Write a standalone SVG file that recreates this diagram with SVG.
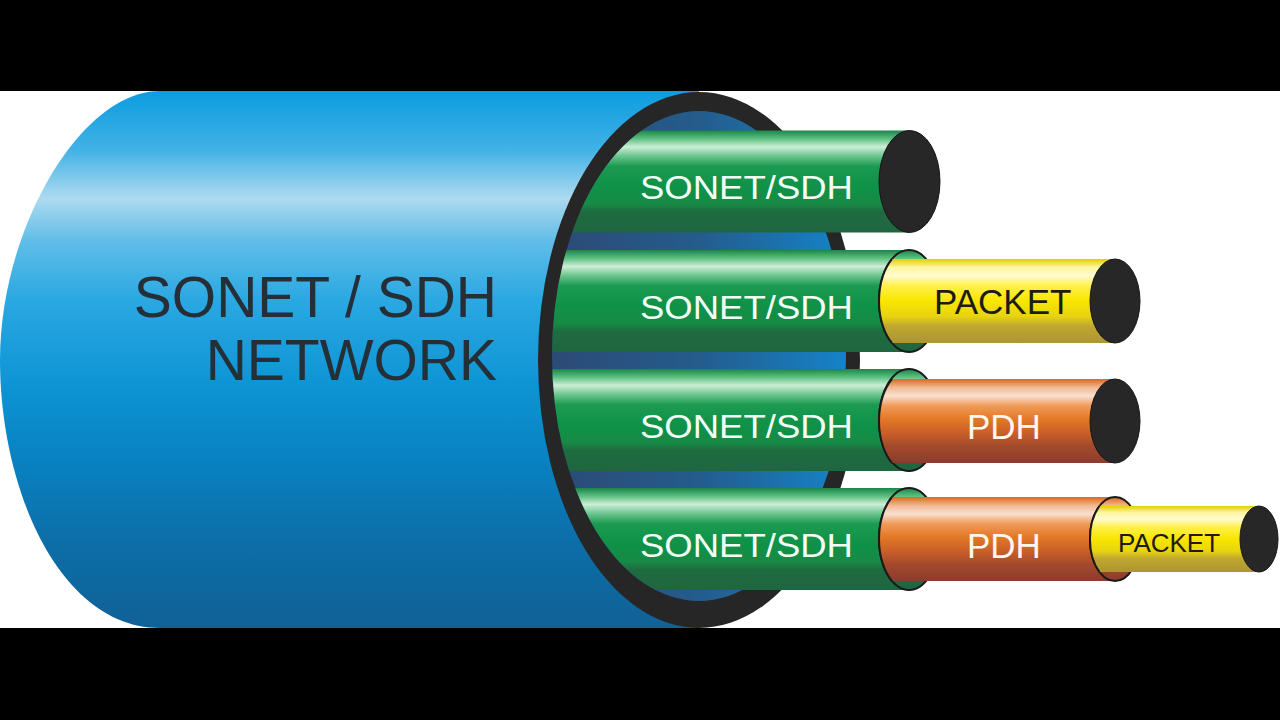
<svg xmlns="http://www.w3.org/2000/svg" width="1280" height="720" viewBox="0 0 1280 720">
<style>
.big{font-family:"Liberation Sans",Arial,sans-serif;font-size:57px;fill:#252f37;text-anchor:end}
.lbl{font-family:"Liberation Sans",Arial,sans-serif;font-size:33px;fill:#f2fff6}
.pk{font-family:"Liberation Sans",Arial,sans-serif;font-size:35px;fill:#1c1c14}
.pd{font-family:"Liberation Sans",Arial,sans-serif;font-size:35px;fill:#fff6f0}
.cap{fill:#272727;stroke:#151515;stroke-width:1}
.edge{fill:none;stroke:#1a1a1a;stroke-width:2}
</style>
<defs>
<linearGradient id="gBlue" gradientUnits="userSpaceOnUse" x1="0" y1="91" x2="0" y2="628">
<stop offset="0" stop-color="#0c9cdf"/>
<stop offset="0.11" stop-color="#42b2e6"/>
<stop offset="0.2" stop-color="#addaef"/>
<stop offset="0.28" stop-color="#5fbde8"/>
<stop offset="0.39" stop-color="#2aa8e2"/>
<stop offset="0.54" stop-color="#0f95d5"/>
<stop offset="0.67" stop-color="#0884c4"/>
<stop offset="0.84" stop-color="#0c6ea8"/>
<stop offset="1" stop-color="#106196"/>
</linearGradient>
<linearGradient id="gInner" gradientUnits="userSpaceOnUse" x1="552" y1="0" x2="846" y2="0">
<stop offset="0" stop-color="#2d4a76"/>
<stop offset="0.5" stop-color="#245c8c"/>
<stop offset="1" stop-color="#1583c8"/>
</linearGradient>
<linearGradient id="gGreen" x1="0" y1="0" x2="0" y2="1">
<stop offset="0" stop-color="#1b8549"/>
<stop offset="0.08" stop-color="#5cbf80"/>
<stop offset="0.16" stop-color="#cdeed6"/>
<stop offset="0.25" stop-color="#6cc68e"/>
<stop offset="0.35" stop-color="#1c9a52"/>
<stop offset="0.55" stop-color="#0f9148"/>
<stop offset="0.72" stop-color="#178a46"/>
<stop offset="0.8" stop-color="#1f6b40"/>
<stop offset="1" stop-color="#1f6640"/>
</linearGradient>
<linearGradient id="gYellow" x1="0" y1="0" x2="0" y2="1">
<stop offset="0" stop-color="#e2cf00"/>
<stop offset="0.1" stop-color="#fff6a0"/>
<stop offset="0.2" stop-color="#fffbd0"/>
<stop offset="0.32" stop-color="#fff04a"/>
<stop offset="0.5" stop-color="#f8e600"/>
<stop offset="0.68" stop-color="#e8d410"/>
<stop offset="0.8" stop-color="#bfa730"/>
<stop offset="1" stop-color="#ad9532"/>
</linearGradient>
<linearGradient id="gOrange" x1="0" y1="0" x2="0" y2="1">
<stop offset="0" stop-color="#d86a1e"/>
<stop offset="0.1" stop-color="#f2b890"/>
<stop offset="0.2" stop-color="#f8e0d0"/>
<stop offset="0.32" stop-color="#f09a58"/>
<stop offset="0.48" stop-color="#e27826"/>
<stop offset="0.65" stop-color="#c85e28"/>
<stop offset="0.8" stop-color="#a34a2c"/>
<stop offset="1" stop-color="#8c3c2c"/>
</linearGradient>
<clipPath id="tubeClip">
<ellipse cx="699" cy="356" rx="147" ry="245"/>
<rect x="699" y="0" width="600" height="720"/>
</clipPath>
</defs>

<rect x="0" y="0" width="1280" height="720" fill="#ffffff"/>
<rect x="0" y="0" width="1280" height="91" fill="#000000"/>
<rect x="0" y="628" width="1280" height="92" fill="#000000"/>

<g id="cable">
<path d="M160 91 L699 91 L699 628 L160 628 C60 628 0 490 0 360 C0 230 80 91 160 91 Z" fill="url(#gBlue)"/>
<ellipse cx="699" cy="360" rx="161" ry="268" fill="#262626"/>
<ellipse cx="699" cy="356" rx="147" ry="245" fill="url(#gInner)"/>
<text class="big" x="497" y="317">SONET / SDH</text>
<text class="big" x="497" y="380">NETWORK</text>
</g>

<g id="tube1">
<rect x="540" y="130.5" width="370" height="102" fill="url(#gGreen)" clip-path="url(#tubeClip)"/>
<ellipse class="cap" cx="909.5" cy="181.5" rx="30.5" ry="51"/>
<text class="lbl" x="640" y="198.5" textLength="213" lengthAdjust="spacingAndGlyphs">SONET/SDH</text>
</g>

<g id="tube2">
<rect x="540" y="250" width="370" height="102" fill="url(#gGreen)" clip-path="url(#tubeClip)"/>
<ellipse cx="909" cy="301" rx="30" ry="51" fill="url(#gGreen)" stroke="#1a1a1a" stroke-width="2"/>
<path d="M892 259 L1115 259 L1115 343 L892 343 A30 51 0 0 1 892 259 Z" fill="url(#gYellow)"/>
<path class="edge" d="M892 343 A30 51 0 0 1 892 259"/>
<ellipse class="cap" cx="1115" cy="301" rx="25" ry="42"/>
<text class="lbl" x="640" y="318.5" textLength="213" lengthAdjust="spacingAndGlyphs">SONET/SDH</text>
<text class="pk" x="934" y="314">PACKET</text>
</g>

<g id="tube3">
<rect x="540" y="369" width="370" height="102" fill="url(#gGreen)" clip-path="url(#tubeClip)"/>
<ellipse cx="909" cy="420" rx="30" ry="51" fill="url(#gGreen)" stroke="#1a1a1a" stroke-width="2"/>
<path d="M892 379 L1115 379 L1115 463 L892 463 A30 51 0 0 1 892 379 Z" fill="url(#gOrange)"/>
<path class="edge" d="M892 463 A30 51 0 0 1 892 379"/>
<ellipse class="cap" cx="1115" cy="421" rx="25" ry="42"/>
<text class="lbl" x="640" y="437.5" textLength="213" lengthAdjust="spacingAndGlyphs">SONET/SDH</text>
<text class="pd" x="967" y="439">PDH</text>
</g>

<g id="tube4">
<rect x="540" y="488" width="370" height="102" fill="url(#gGreen)" clip-path="url(#tubeClip)"/>
<ellipse cx="909" cy="539" rx="30" ry="51" fill="url(#gGreen)" stroke="#1a1a1a" stroke-width="2"/>
<path d="M892 497 L1115 497 L1115 581 L892 581 A30 51 0 0 1 892 497 Z" fill="url(#gOrange)"/>
<path class="edge" d="M892 581 A30 51 0 0 1 892 497"/>
<ellipse cx="1115" cy="539" rx="25" ry="42" fill="url(#gOrange)" stroke="#1a1a1a" stroke-width="2"/>
<path d="M1099.5 506 L1259 506 L1259 572 L1099.5 572 A25 42 0 0 1 1099.5 506 Z" fill="url(#gYellow)"/>
<path class="edge" d="M1099.5 572 A25 42 0 0 1 1099.5 506"/>
<ellipse class="cap" cx="1259" cy="539" rx="19" ry="33"/>
<text class="lbl" x="640" y="557" textLength="213" lengthAdjust="spacingAndGlyphs">SONET/SDH</text>
<text class="pd" x="967" y="558">PDH</text>
<text class="pk" x="1118" y="552" style="font-size:26px">PACKET</text>
</g>

<g id="connectors"/>
</svg>
